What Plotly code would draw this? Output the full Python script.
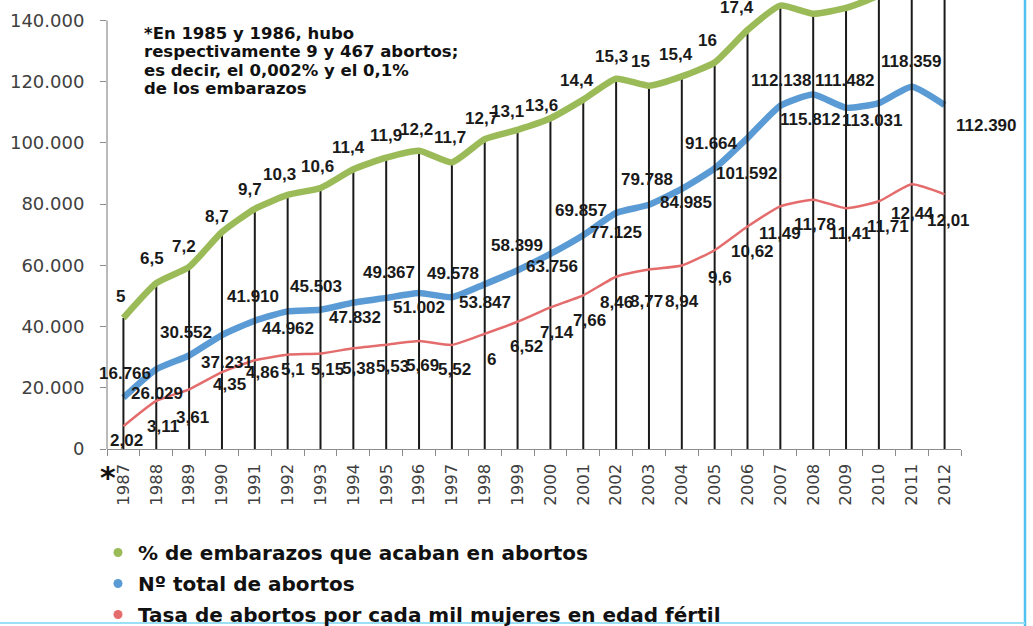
import plotly.graph_objects as go

# ---------------- data ----------------
years = list(range(1987, 2013))
pct_embarazos = [5, 6.5, 7.2, 8.7, 9.7, 10.3, 10.6, 11.4, 11.9, 12.2, 11.7, 12.7, 13.1,
                 13.6, 14.4, 15.3, 15, 15.4, 16, 17.4, 18.45, 18.1, 18.35, 18.9, 20.1, 20.9]
total_abortos = [16766, 26029, 30552, 37231, 41910, 44962, 45503, 47832, 49367, 51002,
                 49578, 53847, 58399, 63756, 69857, 77125, 79788, 84985, 91664, 101592,
                 112138, 115812, 111482, 113031, 118359, 112390]
tasa_mil = [2.02, 3.11, 3.61, 4.35, 4.86, 5.1, 5.15, 5.38, 5.53, 5.69, 5.52, 6, 6.52,
            7.14, 7.66, 8.46, 8.77, 8.94, 9.6, 10.62, 11.49, 11.78, 11.41, 11.71, 12.44, 12.01]
y_ticks = [0, 20000, 40000, 60000, 80000, 100000, 120000, 140000]
pct_labelled = 20  # labels visible in the picture (1987-2006)

names = ["% de embarazos que acaban en abortos",
         "Nº total de abortos",
         "Tasa de abortos por cada mil mujeres en edad fértil"]
note_lines = ["*En 1985 y 1986, hubo",
              "respectivamente 9 y 467 abortos;",
              "es decir, el 0,002% y el 0,1%",
              "de los embarazos"]

# ---------------- style ----------------
GREEN, BLUE, RED = "#9BBB59", "#5B9BD5", "#E46C6C"
AXIS_GREY = "#8c8c8c"
TICK_FONT = "#404040"
Y_RANGE = [0, 146700]
GREEN_RANGE = [-0.64, 18.69]
RED_RANGE = [1.038, 20.38]
PLOT_L, PLOT_R, PLOT_B = 107, 961, 449  # plot area in px (top at 0)
PW, PH = PLOT_R - PLOT_L, PLOT_B

# label offsets in px (dx right, dy down)
green_dx = [-3, -4, -5, -5, -5, -8, -3, -5, 0, -3, -2, -3, -10, -9, -6, -5, -8, -6, -7, -11]
green_dy = [-21, -25, -20, -16, -19, -20, -21, -22, -22, -21, -25, -21, -18, -13, -19, -22, -24, -22, -22, -22]
blue_dx = [2, 1, -3, 5, -2, 0, -5, 2, 3, 0, 1, 0, -1, 2, -2, 0, -2, 4, -3, -1, 1, -3, -1, -6, 0, 42]
blue_dy = [-24, 24, -23, 27, -24, 17, -23, 15, -25, 15, -24, 18, -25, 13, -25, 20, -25, 14, -25, 35,
           -25, 25, -27, 17, -25, 20]
red_dx = [3, 7, 3, 8, 8, 5, 7, 5, 6, 3, 3, 7, 9, 7, 6, 0, -2, 0, 5, 5, 0, 2, 4, 9, 1, 4]
red_dy = [14, 26, 28, 12, 12, 15, 16, 20, 22, 24, 25, 26, 25, 25, 25, 26, 32, 36, 27, 25, 27, 25, 25, 25, 29, 26]


def fmt_miles(v):
    return f"{int(v):,}".replace(",", ".")


def fmt_dec(v):
    return ("%g" % v).replace(".", ",")


def px_x(px):
    return (px - PLOT_L) / PW


def px_y(py):
    return (PLOT_B - py) / PH


fig = go.Figure()

# blue (primary axis)
fig.add_trace(go.Scatter(x=years, y=total_abortos, mode="lines", yaxis="y",
                         line=dict(color=BLUE, width=6.5, shape="spline", smoothing=0.5),
                         showlegend=False, hoverinfo="skip"))
# green with drop lines
fig.add_trace(go.Scatter(x=years, y=pct_embarazos, mode="lines", yaxis="y2",
                         line=dict(color=GREEN, width=6.5, shape="spline", smoothing=0.5),
                         error_y=dict(type="percent", symmetric=False, value=0, valueminus=130,
                                      color="#1a1a1a", thickness=2, width=0),
                         showlegend=False, hoverinfo="skip"))
# red
fig.add_trace(go.Scatter(x=years, y=tasa_mil, mode="lines", yaxis="y3",
                         line=dict(color=RED, width=2.5, shape="spline", smoothing=0.5),
                         showlegend=False, hoverinfo="skip"))

# legend entries
for i, (nm, col) in enumerate(zip(names, [GREEN, BLUE, RED])):
    fig.add_trace(go.Scatter(x=[None], y=[None], mode="markers", name="<b>" + nm + "</b>",
                             legendgroup=str(i), marker=dict(color=col, size=9)))

ann = []
LBL = dict(family="Liberation Sans, Arial", size=17, color="#1a1a1a")
for i in range(pct_labelled):
    ann.append(dict(x=years[i], y=pct_embarazos[i], yref="y2", xref="x",
                    text="<b>" + fmt_dec(pct_embarazos[i]) + "</b>", showarrow=False,
                    xshift=green_dx[i], yshift=-green_dy[i], font=LBL))
for i in range(len(years)):
    ann.append(dict(x=years[i], y=total_abortos[i], yref="y", xref="x",
                    text="<b>" + fmt_miles(total_abortos[i]) + "</b>", showarrow=False,
                    xshift=blue_dx[i], yshift=-blue_dy[i], font=LBL))
    ann.append(dict(x=years[i], y=tasa_mil[i], yref="y3", xref="x",
                    text="<b>" + fmt_dec(tasa_mil[i]) + "</b>", showarrow=False,
                    xshift=red_dx[i], yshift=-red_dy[i], font=LBL))

NOTE = dict(family="DejaVu Sans", size=16.5, color="#111111")
for k, line in enumerate(note_lines):
    ann.append(dict(x=px_x(142), y=px_y(33 + 18.5 * k), xref="paper", yref="paper",
                    xanchor="left", yanchor="middle", text="<b>" + line + "</b>",
                    showarrow=False, font=NOTE))
ann.append(dict(x=px_x(108), y=px_y(477), xref="paper", yref="paper", xanchor="center",
                yanchor="middle", text="<b>*</b>", showarrow=False,
                font=dict(family="DejaVu Sans", size=30, color="#111111")))

shapes = [
    dict(type="line", xref="paper", yref="y", x0=0, x1=0, y0=0, y1=y_ticks[-1],
         line=dict(color=AXIS_GREY, width=1.2), layer="below"),
    dict(type="line", xref="paper", yref="paper", x0=px_x(1025), x1=px_x(1025),
         y0=px_y(0), y1=px_y(626), line=dict(color="#4FC3F0", width=2.5)),
    dict(type="line", xref="paper", yref="paper", x0=px_x(0), x1=px_x(1025),
         y0=px_y(623), y1=px_y(623), line=dict(color="#9ADFF5", width=2)),
]

fig.update_layout(
    width=1033, height=626,
    margin=dict(l=PLOT_L, r=1033 - PLOT_R, t=0, b=626 - PLOT_B, autoexpand=False),
    plot_bgcolor="white", paper_bgcolor="white",
    separators=",.",
    annotations=ann, shapes=shapes,
    xaxis=dict(range=[1986.5, 2012.5], tickvals=years, ticktext=[str(y) for y in years],
               tickangle=-90, ticks="", showline=True, linecolor=AXIS_GREY, linewidth=1.2,
               showgrid=False, zeroline=False, ticklabelstandoff=7, automargin=False,
               tickfont=dict(family="DejaVu Sans", size=16.5, color=TICK_FONT),
               minor=dict(tick0=1986.5, dtick=1, ticks="outside", ticklen=6,
                          tickcolor=AXIS_GREY, tickwidth=1.2, showgrid=False)),
    yaxis=dict(range=Y_RANGE, tickvals=y_ticks, tickformat=",d", showgrid=False,
               zeroline=False, showline=False, ticks="outside", ticklen=6,
               tickcolor=AXIS_GREY, tickwidth=1.2, ticklabelstandoff=12, automargin=False,
               tickfont=dict(family="DejaVu Sans", size=18, color=TICK_FONT)),
    yaxis2=dict(range=GREEN_RANGE, overlaying="y", visible=False),
    yaxis3=dict(range=RED_RANGE, overlaying="y", visible=False),
    legend=dict(x=px_x(98), y=px_y(533), xanchor="left", yanchor="top", orientation="v",
                traceorder="grouped", tracegroupgap=2, bgcolor="rgba(0,0,0,0)",
                font=dict(family="DejaVu Sans", size=20, color="#111111"),
                itemwidth=30),
)

fig.write_html("out.html", config={"displayModeBar": False},
               post_script="document.body.style.margin='0';document.body.style.overflow='hidden';")
